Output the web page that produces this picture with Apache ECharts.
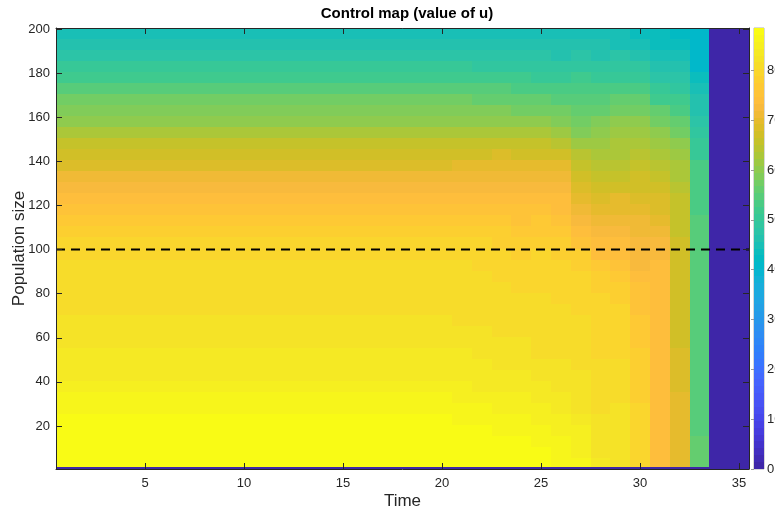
<!DOCTYPE html>
<html>
<head>
<meta charset="utf-8">
<script src="https://cdn.jsdelivr.net/npm/echarts@6/dist/echarts.min.js"></script>
<style>
  html, body { margin: 0; padding: 0; background: #fff; }
  #chart { width: 775px; height: 513px; }
</style>
</head>
<body>
<div id="chart"></div>
<script>
// time steps (columns) and population levels (rows, upper edge of each 5-wide band)
const timeSteps = [1,2,3,4,5,6,7,8,9,10,11,12,13,14,15,16,17,18,19,20,21,22,23,24,25,26,27,28,29,30,31,32,33,34,35]
const popLevels = [5,10,15,20,25,30,35,40,45,50,55,60,65,70,75,80,85,90,95,100,
  105,110,115,120,125,130,135,140,145,150,155,160,165,170,175,180,185,190,195,200]
const xTicks = [5,10,15,20,25,30,35]
const yTicks = [20,40,60,80,100,120,140,160,180,200]
const cbarTicks = [0,10,20,30,40,50,60,70,80]
const cMax = 88.5
const thresholdPop = 100

// value of u, pop 5 -> 200, same for time 1..20
const uEarly = [88.5, 88.4, 88.2, 87.8, 87.2, 86.6, 85.9, 85.0, 84.3, 83.9,
  83.5, 82.8, 82.0, 81.6, 81.4, 81.2, 81.0, 80.8, 80.5, 80.1,
  79.5, 78.8, 77.4, 75.8, 74.3, 73.2, 71.0, 68.8, 67.4, 65.2,
  62.8, 60.4, 58.6, 57.0, 54.6, 52.2, 50.0, 48.2, 46.8, 45.6]

// time 21..33
const uLate = [
  [88.4, 88.2, 88.0, 87.5, 86.9, 86.2, 85.5, 84.7, 84.0, 83.6, 83.0, 82.4, 81.8, 81.4, 81.2, 81.0, 80.8, 80.6, 80.3, 79.9,
   79.2, 78.3, 77.0, 75.6, 74.2, 73.2, 71.3, 69.2, 67.6, 65.5, 63.0, 60.5, 58.6, 56.8, 54.4, 52.0, 49.8, 48.0, 46.6, 45.5],
  [88.3, 88.1, 87.8, 87.2, 86.6, 85.9, 85.1, 84.3, 83.7, 83.2, 82.6, 82.0, 81.6, 81.2, 81.0, 80.8, 80.6, 80.4, 80.0, 79.6,
   78.9, 78.0, 76.7, 75.4, 74.1, 73.2, 71.5, 69.4, 67.7, 65.6, 63.0, 60.4, 58.4, 56.6, 54.2, 51.8, 49.6, 47.9, 46.5, 45.4],
  [88.2, 88.0, 87.6, 87.0, 86.3, 85.6, 84.8, 84.0, 83.4, 82.9, 82.3, 81.8, 81.4, 81.0, 80.8, 80.6, 80.4, 80.1, 79.7, 79.2,
   78.5, 77.6, 76.4, 75.2, 74.0, 73.2, 71.6, 69.5, 67.8, 65.6, 63.0, 60.3, 58.2, 56.4, 54.0, 51.6, 49.4, 47.7, 46.4, 45.3],
  [88.0, 87.8, 87.3, 86.7, 86.0, 85.2, 84.4, 83.6, 83.0, 82.5, 82.0, 81.6, 81.2, 80.8, 80.6, 80.3, 80.0, 79.7, 79.3, 78.8,
   78.0, 77.0, 76.0, 75.0, 73.9, 73.1, 71.6, 69.5, 67.7, 65.5, 62.8, 60.0, 57.9, 56.0, 53.7, 51.3, 49.2, 47.5, 46.2, 45.2],
  [87.4, 87.2, 87.0, 86.6, 85.6, 84.8, 83.9, 83.0, 82.3, 81.9, 81.5, 81.3, 81.0, 80.8, 80.5, 80.3, 80.1, 79.9, 79.6, 79.2,
   78.4, 77.4, 76.2, 75.2, 74.2, 73.2, 71.6, 69.4, 67.5, 65.2, 62.5, 59.7, 57.6, 55.7, 53.4, 51.0, 49.0, 47.3, 46.0, 45.1],
  [86.6, 86.5, 86.3, 85.5, 84.5, 84.2, 83.5, 82.7, 82.3, 81.6, 81.2, 81.0, 80.8, 80.6, 80.3, 80.0, 79.8, 79.4, 79.0, 78.6,
   77.8, 76.8, 75.6, 74.6, 73.8, 72.8, 71.2, 69.2, 67.2, 64.8, 62.0, 59.2, 57.0, 55.2, 52.8, 50.5, 48.6, 47.0, 45.8, 45.0],
  [86.3, 85.2, 85.2, 85.0, 84.0, 82.8, 82.8, 82.6, 82.0, 81.2, 81.2, 81.2, 81.0, 80.4, 79.8, 79.8, 79.6, 79.2, 78.2, 77.5,
   75.5, 73.5, 72.5, 71.0, 69.8, 68.5, 67.0, 65.5, 63.8, 61.5, 59.0, 57.0, 56.0, 55.0, 53.5, 51.5, 49.5, 48.0, 46.5, 45.0],
  [83.8, 82.8, 82.8, 82.8, 82.5, 81.3, 81.3, 81.3, 81.3, 81.0, 79.8, 79.5, 79.5, 79.5, 79.5, 79.3, 78.5, 77.8, 76.5, 74.5,
   73.5, 72.0, 71.0, 69.8, 68.5, 67.0, 65.5, 64.0, 62.6, 61.5, 60.2, 58.4, 56.5, 54.8, 52.8, 50.5, 48.6, 47.0, 45.7, 44.8],
  [82.5, 81.8, 81.8, 81.8, 81.8, 81.6, 80.3, 80.3, 80.3, 80.3, 80.0, 79.0, 79.0, 79.0, 79.0, 78.6, 77.5, 77.2, 75.5, 74.5,
   73.5, 72.5, 71.5, 70.5, 69.2, 67.5, 66.2, 64.8, 63.5, 62.6, 61.2, 59.5, 57.5, 55.6, 53.4, 51.0, 49.0, 47.2, 45.6, 44.6],
  [79.2, 79.5, 79.5, 79.5, 79.5, 79.3, 78.0, 78.0, 78.0, 78.0, 77.8, 76.5, 76.5, 76.5, 76.0, 75.5, 75.0, 74.2, 73.2, 73.0,
   72.5, 71.5, 70.8, 69.8, 68.8, 67.6, 66.8, 65.5, 64.5, 63.5, 62.2, 60.5, 58.0, 55.8, 53.5, 51.0, 48.8, 46.8, 45.0, 43.8],
  [74.5, 74.5, 74.5, 74.5, 74.5, 74.5, 74.5, 74.5, 73.8, 73.5, 73.5, 73.5, 73.5, 73.5, 73.5, 73.5, 73.5, 73.5, 73.5, 73.0,
   72.0, 71.0, 70.0, 68.8, 68.0, 67.0, 65.8, 64.5, 63.5, 62.2, 60.8, 58.0, 55.5, 52.5, 50.0, 48.0, 46.5, 45.3, 44.0, 43.2],
  [70.5, 70.5, 70.5, 70.5, 70.5, 69.5, 69.5, 69.0, 68.5, 68.5, 68.0, 67.5, 67.5, 67.5, 67.5, 67.5, 67.5, 67.5, 67.5, 67.5,
   66.5, 66.0, 66.0, 66.0, 65.5, 64.5, 63.5, 62.5, 61.0, 59.5, 57.5, 55.5, 53.5, 51.5, 49.5, 47.8, 46.5, 45.0, 43.5, 42.0],
  [56.0, 56.5, 56.0, 55.0, 55.0, 55.0, 55.0, 55.0, 55.0, 55.0, 54.0, 54.0, 54.0, 54.0, 54.0, 54.0, 54.0, 54.0, 54.0, 54.0,
   54.0, 54.0, 54.0, 53.5, 53.0, 53.0, 53.0, 53.0, 51.0, 50.5, 48.5, 47.5, 46.5, 45.8, 45.5, 43.0, 41.0, 40.7, 40.7, 40.7]
]
const earlyLastCol = 20
const lateLastCol = 33   // columns after this are u = 0
const uBottomRow = 0     // population 1 row

// MATLAB parula(64)
const parula = [
  [0.2422,0.1504,0.6603],[0.2504,0.1650,0.7076],[0.2578,0.1818,0.7511],[0.2647,0.1978,0.7952],
  [0.2706,0.2147,0.8364],[0.2751,0.2342,0.8710],[0.2783,0.2559,0.8991],[0.2803,0.2782,0.9221],
  [0.2813,0.3006,0.9414],[0.2810,0.3228,0.9579],[0.2795,0.3447,0.9717],[0.2760,0.3667,0.9829],
  [0.2699,0.3892,0.9906],[0.2602,0.4123,0.9952],[0.2440,0.4358,0.9988],[0.2206,0.4603,0.9973],
  [0.1963,0.4847,0.9892],[0.1834,0.5074,0.9798],[0.1786,0.5289,0.9682],[0.1764,0.5499,0.9520],
  [0.1687,0.5703,0.9359],[0.1540,0.5902,0.9218],[0.1460,0.6091,0.9079],[0.1380,0.6276,0.8973],
  [0.1248,0.6459,0.8883],[0.1113,0.6635,0.8763],[0.0952,0.6798,0.8598],[0.0689,0.6948,0.8394],
  [0.0297,0.7082,0.8163],[0.0036,0.7203,0.7917],[0.0067,0.7312,0.7660],[0.0433,0.7411,0.7394],
  [0.0964,0.7500,0.7120],[0.1408,0.7584,0.6842],[0.1717,0.7670,0.6554],[0.1938,0.7758,0.6251],
  [0.2161,0.7843,0.5923],[0.2470,0.7918,0.5567],[0.2906,0.7973,0.5188],[0.3406,0.8008,0.4789],
  [0.3909,0.8029,0.4354],[0.4456,0.8024,0.3909],[0.5044,0.7993,0.3480],[0.5616,0.7942,0.3045],
  [0.6174,0.7876,0.2612],[0.6720,0.7793,0.2227],[0.7242,0.7698,0.1910],[0.7738,0.7598,0.1646],
  [0.8203,0.7498,0.1535],[0.8634,0.7406,0.1596],[0.9035,0.7330,0.1774],[0.9393,0.7288,0.2100],
  [0.9728,0.7298,0.2394],[0.9956,0.7434,0.2371],[0.9970,0.7659,0.2199],[0.9952,0.7893,0.2028],
  [0.9892,0.8136,0.1885],[0.9786,0.8386,0.1766],[0.9676,0.8639,0.1643],[0.9610,0.8890,0.1537],
  [0.9597,0.9135,0.1423],[0.9628,0.9373,0.1265],[0.9691,0.9606,0.1064],[0.9769,0.9839,0.0805]
]
const parulaCss = parula.map(c => 'rgb(' + c.map(v => Math.round(v * 255)).join(',') + ')')

function colorOf(v) {
  let i = Math.floor(v / cMax * parula.length)
  if (i < 0) i = 0
  if (i > parula.length - 1) i = parula.length - 1
  return parulaCss[i]
}

// cells: [t0, t1, p0, p1, u]
let cells = []
timeSteps.forEach(t => {
  let col
  if (t <= earlyLastCol) col = uEarly
  else if (t <= lateLastCol) col = uLate[t - earlyLastCol - 1]
  else col = null
  cells.push([t - 0.5, t + 0.5, 0.5, 1.5, uBottomRow])
  popLevels.forEach((p, i) => {
    let lo = i === 0 ? 1.5 : popLevels[i - 1] + 0.5
    cells.push([t - 0.5, t + 0.5, lo, p + 0.5, col ? col[i] : 0])
  })
})

// colorbar strips, one per colormap entry
let cbarCells = parula.map((c, i) => [0, 1, i * cMax / parula.length, (i + 1) * cMax / parula.length, i])

function renderRect(fillOf) {
  return (params, api) => {
    const a = api.coord([api.value(0), api.value(3)])
    const b = api.coord([api.value(1), api.value(2)])
    const x = Math.round(a[0]), y = Math.round(a[1])
    return {
      type: 'rect',
      shape: { x: x, y: y, width: Math.round(b[0]) - x, height: Math.round(b[1]) - y },
      style: { fill: fillOf(api.value(4)) }
    }
  }
}

const font = '"Liberation Sans", Arial, Helvetica, sans-serif'
const ink = '#262626'

let frameAxis = {
  type: 'value',
  z: 10,
  axisLine: { show: true, onZero: false, lineStyle: { color: ink, width: 1 } },
  splitLine: { show: false },
  axisLabel: { show: false }
}

let myChart = echarts.init(document.getElementById('chart'), null, { renderer: 'canvas' })
myChart.setOption({
  animation: false,
  textStyle: { fontFamily: font },
  title: {
    text: 'Control map (value of u)',
    left: 402,
    top: 1,
    textAlign: 'center',
    textStyle: { fontFamily: font, fontSize: 15, fontWeight: 'bold', color: '#000' }
  },
  grid: [
    { left: 56, top: 28, width: 693, height: 441, containLabel: false, outerBoundsMode: 'none' },
    { left: 754, top: 28, width: 10, height: 441, containLabel: false, outerBoundsMode: 'none',
      show: true, borderColor: '#b0b0b0', borderWidth: 1 }
  ],
  xAxis: [
    Object.assign({}, frameAxis, {
      gridIndex: 0, position: 'bottom', min: 0.5, max: 35.5,
      axisTick: { inside: true, length: 6, customValues: xTicks, lineStyle: { color: ink } },
      axisLabel: { show: true, customValues: xTicks, color: ink, fontSize: 13, margin: 8, fontFamily: font },
      name: 'Time', nameLocation: 'middle', nameGap: 24, nameMoveOverlap: false,
      nameTextStyle: { fontSize: 17, color: ink, fontFamily: font, verticalAlign: 'top' }
    }),
    Object.assign({}, frameAxis, {
      gridIndex: 0, position: 'top', min: 0.5, max: 35.5,
      axisTick: { inside: true, length: 6, customValues: xTicks, lineStyle: { color: ink } }
    }),
    { type: 'value', gridIndex: 1, min: 0, max: 1, show: false }
  ],
  yAxis: [
    Object.assign({}, frameAxis, {
      gridIndex: 0, position: 'left', min: 0.5, max: 200.5,
      axisTick: { inside: true, length: 6, customValues: yTicks, lineStyle: { color: ink } },
      axisLabel: { show: true, customValues: yTicks, color: ink, fontSize: 13, margin: 6, fontFamily: font },
      name: 'Population size', nameLocation: 'middle', nameGap: 28, nameMoveOverlap: false,
      nameTextStyle: { fontSize: 17, color: ink, fontFamily: font }
    }),
    Object.assign({}, frameAxis, {
      gridIndex: 0, position: 'right', min: 0.5, max: 200.5,
      axisTick: { inside: true, length: 6, customValues: yTicks, lineStyle: { color: ink } }
    }),
    {
      type: 'value', gridIndex: 1, position: 'right', min: 0, max: cMax, interval: 10, z: 10,
      axisLine: { show: false },
      splitLine: { show: false },
      axisTick: { inside: true, length: 3, customValues: cbarTicks, lineStyle: { color: '#999' } },
      axisLabel: { customValues: cbarTicks, color: ink, fontSize: 13, margin: 3, fontFamily: font }
    }
  ],
  series: [
    {
      type: 'custom',
      xAxisIndex: 0,
      yAxisIndex: 0,
      silent: true,
      renderItem: renderRect(colorOf),
      data: cells
    },
    {
      type: 'line',
      xAxisIndex: 0,
      yAxisIndex: 0,
      silent: true,
      z: 5,
      symbol: 'none',
      lineStyle: { color: '#000', width: 2, type: [9, 6] },
      data: [[0.5, thresholdPop], [35.5, thresholdPop]]
    },
    {
      type: 'custom',
      xAxisIndex: 2,
      yAxisIndex: 2,
      silent: true,
      renderItem: renderRect(i => parulaCss[i]),
      data: cbarCells
    }
  ]
})
</script>
</body>
</html>
